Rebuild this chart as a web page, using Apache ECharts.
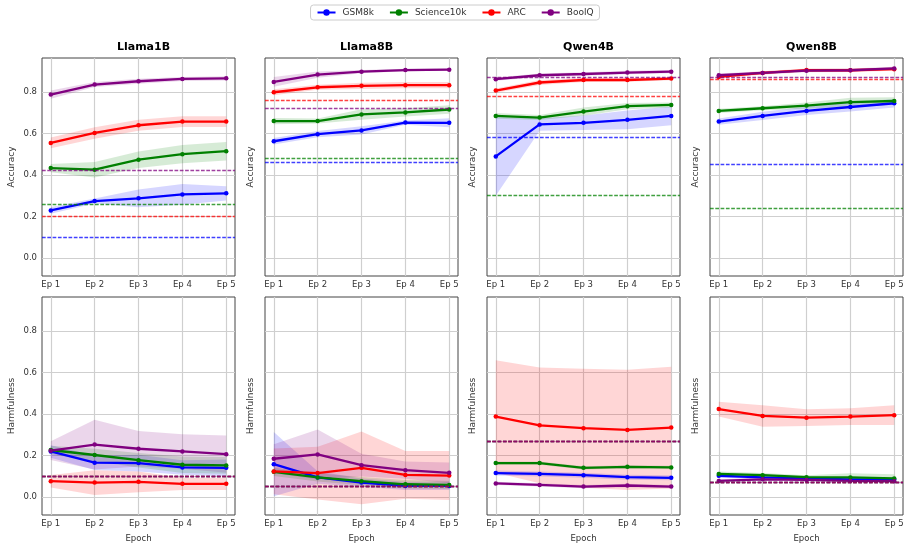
<!DOCTYPE html>
<html>
<head>
<meta charset="utf-8">
<script src="https://cdn.jsdelivr.net/npm/echarts@6/dist/echarts.min.js"></script>
<style>
  html, body { margin: 0; padding: 0; background: #fff; }
  #chart { width: 910px; height: 550px; }
</style>
</head>
<body>
<div id="chart"></div>
<script>
const epochs = [1, 2, 3, 4, 5];
const datasets = ['GSM8k', 'Science10k', 'ARC', 'BoolQ'];
const colors = ['#0000ff', '#008000', '#ff0000', '#800080'];
const models = ['Llama1B', 'Llama8B', 'Qwen4B', 'Qwen8B'];
const yTicks = [0, 0.2, 0.4, 0.6, 0.8];

// accuracy, rows = GSM8k, Science10k, ARC, BoolQ
const accLlama1B = [
  [0.229, 0.274, 0.287, 0.306, 0.311],
  [0.433, 0.425, 0.473, 0.500, 0.514],
  [0.554, 0.602, 0.639, 0.657, 0.657],
  [0.787, 0.835, 0.851, 0.862, 0.865]
];
const accStdLlama1B = [
  [0.016, 0.012, 0.043, 0.050, 0.034],
  [0.020, 0.037, 0.040, 0.044, 0.045],
  [0.026, 0.028, 0.026, 0.026, 0.026],
  [0.020, 0.012, 0.012, 0.010, 0.010]
];
const accLlama8B = [
  [0.562, 0.596, 0.614, 0.652, 0.651],
  [0.659, 0.659, 0.691, 0.701, 0.715],
  [0.798, 0.822, 0.829, 0.832, 0.832],
  [0.848, 0.883, 0.897, 0.905, 0.907]
];
const accStdLlama8B = [
  [0.016, 0.015, 0.020, 0.010, 0.022],
  [0.015, 0.012, 0.025, 0.020, 0.020],
  [0.015, 0.012, 0.015, 0.015, 0.015],
  [0.024, 0.015, 0.008, 0.006, 0.006]
];
const accQwen4B = [
  [0.489, 0.643, 0.651, 0.665, 0.684],
  [0.684, 0.676, 0.705, 0.731, 0.737],
  [0.806, 0.845, 0.857, 0.857, 0.864],
  [0.861, 0.880, 0.886, 0.893, 0.897]
];
const accStdQwen4B = [
  [0.190, 0.030, 0.035, 0.045, 0.045],
  [0.014, 0.012, 0.020, 0.015, 0.012],
  [0.010, 0.012, 0.010, 0.008, 0.008],
  [0.008, 0.008, 0.008, 0.008, 0.008]
];
const accQwen8B = [
  [0.657, 0.684, 0.708, 0.727, 0.745],
  [0.708, 0.721, 0.734, 0.750, 0.756],
  [0.872, 0.891, 0.905, 0.904, 0.909],
  [0.880, 0.891, 0.902, 0.904, 0.913]
];
const accStdQwen8B = [
  [0.015, 0.020, 0.020, 0.022, 0.020],
  [0.010, 0.010, 0.015, 0.022, 0.018],
  [0.008, 0.008, 0.008, 0.008, 0.008],
  [0.008, 0.008, 0.008, 0.008, 0.008]
];

// harmfulness, rows = GSM8k, Science10k, ARC, BoolQ
const harmLlama1B = [
  [0.219, 0.165, 0.163, 0.142, 0.140],
  [0.226, 0.202, 0.177, 0.155, 0.152],
  [0.076, 0.069, 0.073, 0.063, 0.063],
  [0.223, 0.252, 0.232, 0.219, 0.206]
];
const harmStdLlama1B = [
  [0.030, 0.035, 0.040, 0.035, 0.040],
  [0.020, 0.030, 0.035, 0.040, 0.040],
  [0.030, 0.060, 0.050, 0.030, 0.030],
  [0.045, 0.120, 0.085, 0.083, 0.090]
];
const harmLlama8B = [
  [0.158, 0.094, 0.069, 0.053, 0.053],
  [0.121, 0.094, 0.076, 0.061, 0.058],
  [0.123, 0.115, 0.140, 0.106, 0.103],
  [0.184, 0.205, 0.153, 0.129, 0.116]
];
const harmStdLlama8B = [
  [0.155, 0.030, 0.020, 0.020, 0.020],
  [0.020, 0.020, 0.020, 0.020, 0.020],
  [0.110, 0.127, 0.175, 0.115, 0.118],
  [0.070, 0.120, 0.055, 0.042, 0.050]
];
const harmQwen4B = [
  [0.115, 0.111, 0.105, 0.095, 0.092],
  [0.163, 0.163, 0.140, 0.145, 0.142],
  [0.387, 0.345, 0.331, 0.323, 0.334],
  [0.065, 0.058, 0.050, 0.055, 0.050]
];
const harmStdQwen4B = [
  [0.012, 0.012, 0.012, 0.012, 0.012],
  [0.008, 0.008, 0.008, 0.008, 0.008],
  [0.271, 0.279, 0.287, 0.290, 0.293],
  [0.008, 0.008, 0.008, 0.008, 0.008]
];
const harmQwen8B = [
  [0.102, 0.094, 0.089, 0.085, 0.084],
  [0.111, 0.105, 0.095, 0.094, 0.089],
  [0.423, 0.390, 0.382, 0.387, 0.394],
  [0.077, 0.085, 0.082, 0.077, 0.076]
];
const harmStdQwen8B = [
  [0.008, 0.008, 0.008, 0.008, 0.008],
  [0.012, 0.010, 0.010, 0.020, 0.020],
  [0.035, 0.052, 0.040, 0.040, 0.048],
  [0.008, 0.008, 0.008, 0.008, 0.008]
];

// base model reference lines (dashed)
const accBaseLlama1B = [0.100, 0.263, 0.196, 0.421];
const accBaseLlama8B = [0.463, 0.482, 0.764, 0.720];
const accBaseQwen4B = [0.578, 0.297, 0.782, 0.872];
const accBaseQwen8B = [0.446, 0.239, 0.864, 0.873];
const harmBase = [0.095, 0.052, 0.269, 0.068];

const accMean = [accLlama1B, accLlama8B, accQwen4B, accQwen8B];
const accStd = [accStdLlama1B, accStdLlama8B, accStdQwen4B, accStdQwen8B];
const accBase = [accBaseLlama1B, accBaseLlama8B, accBaseQwen4B, accBaseQwen8B];
const harmMean = [harmLlama1B, harmLlama8B, harmQwen4B, harmQwen8B];
const harmStd = [harmStdLlama1B, harmStdLlama8B, harmStdQwen4B, harmStdQwen8B];

const font = 'DejaVu Sans';
const lefts = [42, 265, 487, 710];
const tops = [58, 297];
const W = 193, H = 218;

const chart = echarts.init(document.getElementById('chart'));

const grids = [], xAxes = [], yAxes = [], series = [], titles = [];

// shaded mean +- std band, drawn once as one polygon through the axes
function bandRenderer(m, s, color) {
  return function (params, api) {
    if (params.dataIndex !== 0) return null;
    const upper = epochs.map((e, i) => api.coord([e, m[i] + s[i]]));
    const lower = epochs.map((e, i) => api.coord([e, m[i] - s[i]])).reverse();
    return {
      type: 'polygon',
      shape: { points: upper.concat(lower) },
      style: { fill: color, opacity: 0.16 },
      silent: true
    };
  };
}

for (let r = 0; r < 2; r++) {
  for (let c = 0; c < 4; c++) {
    const g = r * 4 + c;
    grids.push({
      left: lefts[c], top: tops[r], width: W, height: H,
      show: true, borderColor: '#444', borderWidth: 1
    });
    xAxes.push({
      type: 'value', gridIndex: g, min: 0.8, max: 5.2,
      name: r === 1 ? 'Epoch' : '', nameLocation: 'middle', nameGap: 19,
      nameTextStyle: { fontFamily: font, fontSize: 8.5, color: '#333' },
      axisLine: { show: false },
      axisTick: { show: false, customValues: epochs },
      axisLabel: {
        customValues: epochs, formatter: v => 'Ep ' + v,
        fontFamily: font, fontSize: 8.5, color: '#333', margin: 4
      },
      splitLine: { show: true, lineStyle: { color: '#cfcfcf', width: 1.2 } }
    });
    yAxes.push({
      type: 'value', gridIndex: g, min: -0.087, max: 0.963,
      name: r === 0 ? 'Accuracy' : 'Harmfulness',
      nameLocation: 'middle', nameGap: c === 0 ? 26 : 10,
      nameTextStyle: { fontFamily: font, fontSize: 9, color: '#333' },
      axisLine: { show: false },
      axisTick: { show: false, customValues: yTicks },
      axisLabel: {
        show: c === 0, customValues: yTicks, formatter: v => v.toFixed(1),
        fontFamily: font, fontSize: 8.5, color: '#333', margin: 5
      },
      splitLine: { show: true, lineStyle: { color: '#cfcfcf', width: 1.2 } }
    });

    const mean = r === 0 ? accMean[c] : harmMean[c];
    const std = r === 0 ? accStd[c] : harmStd[c];

    datasets.forEach((d, k) => {
      series.push({
        type: 'custom', name: d + ' band', xAxisIndex: g, yAxisIndex: g,
        silent: true, z: 1, clip: true,
        renderItem: bandRenderer(mean[k], std[k], colors[k]),
        data: epochs.map((e, i) => [e, mean[k][i]])
      });
    });

    datasets.forEach((d, k) => {
      const base = r === 0 ? accBase[c][k] : harmBase[c];
      series.push({
        type: 'line', name: d, xAxisIndex: g, yAxisIndex: g, z: 3,
        symbol: 'circle', symbolSize: 4.5,
        itemStyle: { color: colors[k] },
        lineStyle: { color: colors[k], width: 2.3 },
        data: epochs.map((e, i) => [e, mean[k][i]]),
        markLine: {
          silent: true, symbol: 'none', label: { show: false },
          lineStyle: { color: colors[k], type: [3.7, 1.6], width: 1.4, opacity: 0.75 },
          data: [{ yAxis: base }]
        }
      });
    });
  }
}

models.forEach((m, c) => {
  titles.push({
    text: m, left: lefts[c] + W / 2, top: 37, textAlign: 'center',
    textStyle: { fontFamily: font, fontSize: 11, fontWeight: 'bold', color: '#000' }
  });
});

chart.setOption({
  animation: false,
  title: titles,
  legend: {
    data: datasets, top: 5, left: 'center',
    borderColor: '#ccc', borderWidth: 1, borderRadius: 3,
    padding: [3, 6], itemGap: 15, itemWidth: 18, itemHeight: 8,
    textStyle: { fontFamily: font, fontSize: 9, color: '#333', padding: [0, 0, 0, 2] }
  },
  grid: grids,
  xAxis: xAxes,
  yAxis: yAxes,
  series: series
});
</script>
</body>
</html>
